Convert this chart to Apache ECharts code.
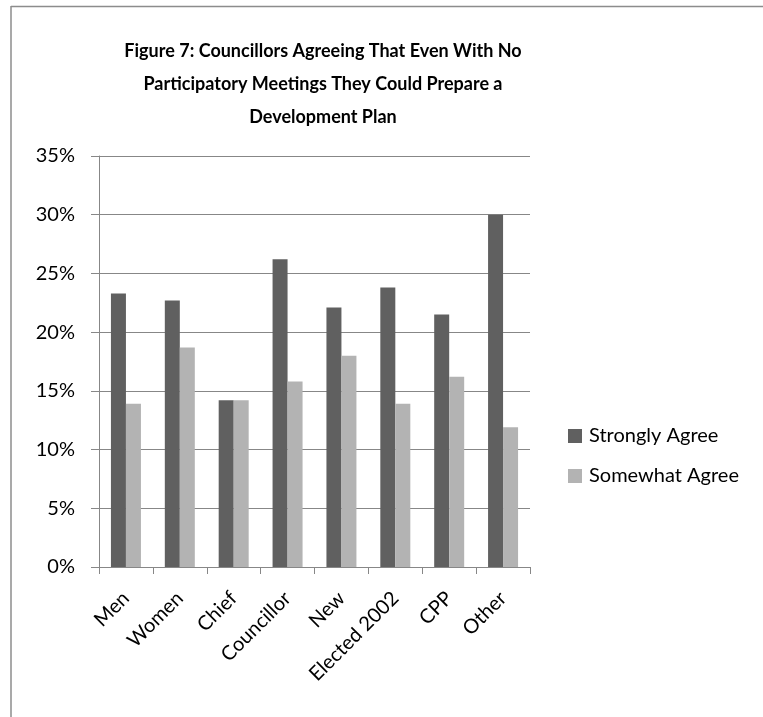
<!DOCTYPE html>
<html>
<head>
<meta charset="utf-8">
<style>
  html, body { margin: 0; padding: 0; background: #fff; }
  #chart { width: 763px; height: 717px; }
</style>
<script src="https://cdn.jsdelivr.net/npm/echarts@6/dist/echarts.min.js"></script>
</head>
<body>
<div id="chart"></div>
<script>
// Survey groups and shares of councillors agreeing
const categories = ['Men', 'Women', 'Chief', 'Councillor', 'New', 'Elected 2002', 'CPP', 'Other'];
const stronglyAgree = [0.233, 0.227, 0.142, 0.262, 0.221, 0.238, 0.215, 0.300];
const somewhatAgree = [0.139, 0.187, 0.142, 0.158, 0.180, 0.139, 0.162, 0.119];
const yTicks = [0, 0.05, 0.10, 0.15, 0.20, 0.25, 0.30, 0.35];

const FONT = 'Lato, "Liberation Sans", Arial, sans-serif';
const chart = echarts.init(document.getElementById('chart'), null, { renderer: 'canvas' });

chart.setOption({
  animation: false,
  backgroundColor: '#ffffff',
  title: {
    text: 'Figure 7: Councillors Agreeing That Even With No\nParticipatory Meetings They Could Prepare a\nDevelopment Plan',
    left: 318,
    top: 30,
    textAlign: 'center',
    textStyle: {
      fontFamily: FONT,
      fontSize: 18,
      fontWeight: 'bold',
      color: '#000',
      lineHeight: 33
    }
  },
  legend: {
    orient: 'vertical',
    left: 568,
    top: 426,
    padding: 0,
    itemWidth: 14,
    itemHeight: 14,
    itemGap: 20,
    icon: 'rect',
    textStyle: { fontFamily: FONT, fontSize: 20, color: '#000', padding: [0, 0, 0, 2] },
    data: ['Strongly Agree', 'Somewhat Agree']
  },
  grid: { left: 99, right: 233, top: 156, bottom: 150, containLabel: false },
  xAxis: {
    type: 'category',
    data: categories,
    axisLine: { lineStyle: { color: '#878787', width: 1 } },
    axisTick: { show: true, alignWithLabel: false, length: 7, lineStyle: { color: '#878787' } },
    axisLabel: {
      rotate: 45,
      interval: 0,
      margin: 28,
      fontFamily: FONT,
      fontSize: 20,
      color: '#000'
    }
  },
  yAxis: {
    type: 'value',
    min: yTicks[0],
    max: yTicks[yTicks.length - 1],
    interval: 0.05,
    axisLine: { show: true, lineStyle: { color: '#878787', width: 1 } },
    axisTick: { show: true, length: 8, lineStyle: { color: '#878787' } },
    splitLine: { lineStyle: { color: '#878787', width: 1 } },
    axisLabel: {
      margin: 24,
      fontFamily: FONT,
      fontSize: 20,
      color: '#000',
      formatter: v => Math.round(v * 100) + '%'
    }
  },
  series: [
    {
      name: 'Strongly Agree',
      type: 'bar',
      data: stronglyAgree,
      barWidth: 15,
      barGap: '0%',
      itemStyle: { color: '#606060' }
    },
    {
      name: 'Somewhat Agree',
      type: 'bar',
      data: somewhatAgree,
      barWidth: 15,
      itemStyle: { color: '#b3b3b3' }
    }
  ],
  graphic: [
    { type: 'line', shape: { x1: 11, y1: 6.5, x2: 763, y2: 6.5 }, style: { stroke: '#8c8c8c', lineWidth: 1.5 } },
    { type: 'line', shape: { x1: 11, y1: 6, x2: 11, y2: 717 }, style: { stroke: '#8c8c8c', lineWidth: 1.5 } }
  ]
});
</script>
</body>
</html>
